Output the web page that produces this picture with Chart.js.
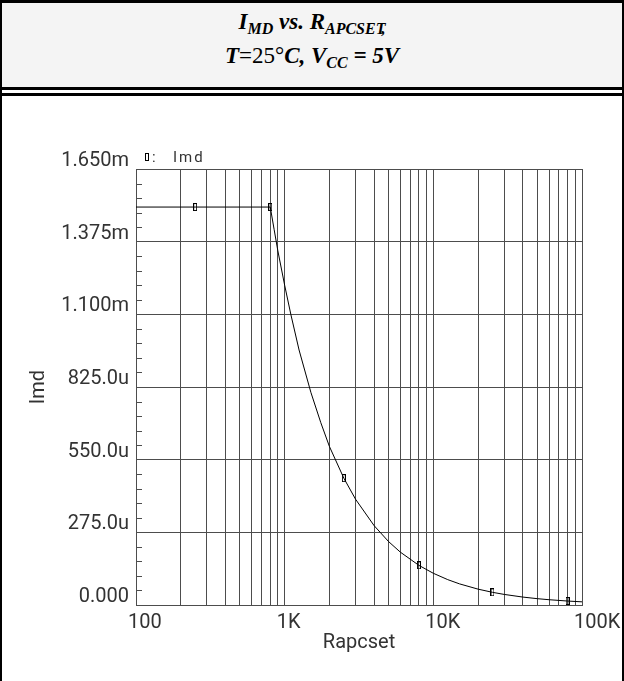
<!DOCTYPE html>
<html>
<head>
<meta charset="utf-8">
<script src="https://cdn.jsdelivr.net/npm/chart.js@4.4.1/dist/chart.umd.min.js"></script>
<style>
  html, body { margin: 0; padding: 0; background: #fff; }
  body { width: 624px; height: 681px; position: relative; overflow: hidden; }
  .frame {
    position: absolute; left: 0; top: 0; width: 620px; height: 678px;
    border-left: 2px solid #000; border-right: 2px solid #000; border-top: 3px solid #000;
  }
  .header {
    position: absolute; left: 0; top: 0; width: 620px; height: 84px;
    background: #f4f4f4; border-bottom: 3px solid #000;
    font-family: "Liberation Serif", "Times New Roman", serif;
    font-weight: bold; font-style: italic; font-size: 23px; color: #000;
    text-align: center;
  }
  .header .l1 { position: absolute; left: 0; right: 0; top: 7px; line-height: 24px; }
  .header .l2 { position: absolute; left: 0; right: 0; top: 41px; line-height: 24px; }
  .header sub { font-size: 16px; vertical-align: -5px; line-height: 0; }
  .header .tail { margin-left: -4px; }
  .header .plain { font-weight: normal; font-style: normal; }
  .rule { position: absolute; left: 0; top: 90px; width: 620px; height: 3px; background: #000; }
  .plot { position: absolute; left: 0; top: 93px; width: 620px; height: 585px; }
</style>
</head>
<body>
<div class="frame">
  <div class="header">
    <div class="l1">I<sub>MD</sub> vs. R<sub>APCSET<span class="tail">,</span></sub></div>
    <div class="l2">T<span class="plain">=25°</span>C, V<sub>CC</sub> = 5V</div>
  </div>
  <div class="rule"></div>
  <div class="plot"><canvas id="chart" width="620" height="585"></canvas></div>
</div>
<script>
// Rapcset (ohm) and Imd (mA)
const resistance = [100, 250, 500, 800, 850, 900, 1000, 1100, 1250, 1500, 1750, 2000, 2500, 3000, 4000, 5000, 6000, 8000, 10000, 12500, 15000, 20000, 25000, 30000, 40000, 50000, 60000, 80000, 100000];
const imdMilli = [1.506, 1.506, 1.506, 1.506, 1.42, 1.34, 1.21, 1.10, 0.965, 0.805, 0.69, 0.60, 0.48, 0.40, 0.30, 0.24, 0.20, 0.150, 0.120, 0.096, 0.080, 0.060, 0.048, 0.040, 0.030, 0.024, 0.020, 0.015, 0.012];

// sample markers along the trace
const markerR = [250, 800, 2500, 8000, 25000, 80000];
const markerImd = [1.506, 1.506, 0.48, 0.150, 0.048, 0.015];

const xTicks = [100, 200, 300, 400, 500, 600, 700, 800, 900,
  1000, 2000, 3000, 4000, 5000, 6000, 7000, 8000, 9000,
  10000, 20000, 30000, 40000, 50000, 60000, 70000, 80000, 90000, 100000];
const xTickLabels = { 100: '100', 1000: '1K', 10000: '10K', 100000: '100K' };

const yTicks = [0, 0.275, 0.55, 0.825, 1.1, 1.375, 1.65];
const yTickLabels = ['0.000', '275.0u', '550.0u', '825.0u', '1.100m', '1.375m', '1.650m'];
const yMinorStep = 0.055;

const axisFont = { family: 'Roboto', size: 20, weight: 'normal' };
const textColor = '#333';
const gridColor = '#4d4d4d';

// tall thin hollow box used as point marker
const makeMarker = () => {
  const c = document.createElement('canvas');
  c.width = 4;
  c.height = 8;
  const g = c.getContext('2d');
  g.strokeStyle = '#000';
  g.lineWidth = 1;
  g.strokeRect(0.5, 0.5, 3, 7);
  return c;
};
const marker = makeMarker();

const minorTicks = {
  id: 'minorTicks',
  afterDatasetsDraw(chart) {
    const { ctx, chartArea, scales } = chart;
    ctx.save();
    ctx.strokeStyle = gridColor;
    ctx.lineWidth = 1;
    for (let i = 0; i * yMinorStep <= 1.65 + 1e-9; i++) {
      if (i % 5 === 0) continue;
      const y = Math.round(scales.y.getPixelForValue(i * yMinorStep)) + 0.5;
      ctx.beginPath();
      ctx.moveTo(chartArea.left, y);
      ctx.lineTo(chartArea.left + 6, y);
      ctx.stroke();
    }
    ctx.restore();
  },
};

const traceLegend = {
  id: 'traceLegend',
  afterDraw(chart) {
    const { ctx, chartArea } = chart;
    ctx.save();
    ctx.drawImage(marker, chartArea.left + 9, chartArea.top - 16);
    ctx.fillStyle = textColor;
    ctx.font = '15px Roboto';
    ctx.textBaseline = 'alphabetic';
    ctx.fillText(':', chartArea.left + 16, chartArea.top - 7);
    ctx.letterSpacing = '2px';
    ctx.fillText('Imd', chartArea.left + 37, chartArea.top - 7);
    ctx.restore();
  },
};

new Chart(document.getElementById('chart'), {
  type: 'line',
  data: {
    datasets: [
      {
        label: 'Imd',
        data: resistance.map((r, i) => ({ x: r, y: imdMilli[i] })),
        borderColor: '#000',
        borderWidth: 1,
        pointRadius: 0,
        tension: 0,
      },
      {
        label: 'markers',
        data: markerR.map((r, i) => ({ x: r, y: markerImd[i] })),
        showLine: false,
        pointStyle: marker,
        pointRadius: 4,
      },
    ],
  },
  options: {
    animation: false,
    responsive: false,
    layout: { padding: { top: 73, right: 40, left: 0, bottom: 0 } },
    plugins: { legend: { display: false }, tooltip: { enabled: false } },
    scales: {
      x: {
        type: 'logarithmic',
        min: 100,
        max: 100000,
        afterBuildTicks: (scale) => { scale.ticks = xTicks.map((v) => ({ value: v })); },
        afterFit: (scale) => {
          scale.height = 76;
          scale.paddingLeft = 0;
          scale.paddingRight = 0;
        },
        grid: { color: gridColor, lineWidth: 1, drawTicks: false },
        border: { display: true, color: gridColor },
        ticks: {
          autoSkip: false,
          maxRotation: 0,
          align: 'start',
          labelOffset: -8,
          padding: 6,
          color: textColor,
          font: axisFont,
          callback: (value) => xTickLabels[value] || '',
        },
        title: {
          display: true,
          text: 'Rapcset',
          color: textColor,
          font: axisFont,
          padding: { top: 0, bottom: 26 },
        },
      },
      y: {
        min: 0,
        max: 1.65,
        afterBuildTicks: (scale) => { scale.ticks = yTicks.map((v) => ({ value: v })); },
        afterFit: (scale) => {
          scale.width = 134;
          scale.paddingTop = 0;
          scale.paddingBottom = 0;
        },
        grid: { color: gridColor, lineWidth: 1, drawTicks: false },
        border: { display: true, color: gridColor },
        ticks: {
          autoSkip: false,
          padding: 7,
          labelOffset: -8,
          color: textColor,
          font: axisFont,
          callback: (value) => yTickLabels[yTicks.findIndex((t) => Math.abs(t - value) < 1e-6)],
        },
        title: {
          display: true,
          text: 'Imd',
          color: textColor,
          font: axisFont,
          padding: { top: 25, bottom: 0 },
        },
      },
    },
  },
  plugins: [minorTicks, traceLegend],
});
</script>
</body>
</html>
